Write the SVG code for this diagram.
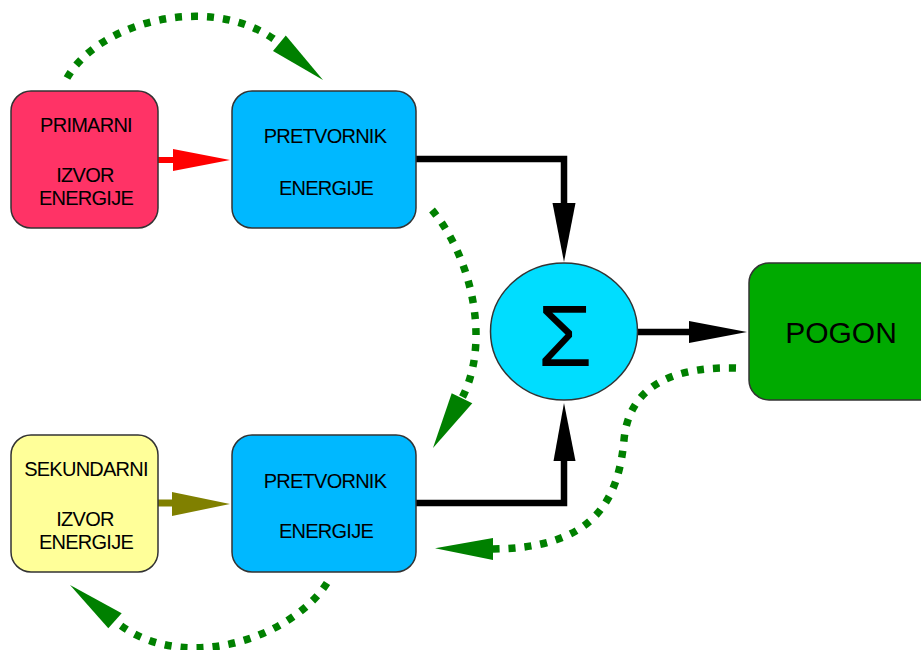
<svg xmlns="http://www.w3.org/2000/svg" width="921" height="650" viewBox="0 0 921 650">
<style>
.box{stroke:#333;stroke-width:1.5}
.t{font-family:"Liberation Sans",Arial,sans-serif;font-size:20px;letter-spacing:-0.75px;text-anchor:middle;fill:#000}
.blk{fill:none;stroke:#000;stroke-width:6.5}
.dot{fill:none;stroke:#008000;stroke-width:7.5;stroke-dasharray:7 9}
.gh{fill:#008000}
</style>
<rect width="921" height="650" fill="#fff"/>
<g id="connectors">
  <path d="M158,160 H175" stroke="#ff0000" stroke-width="6"/>
  <polygon points="173,149 230,160 173,171" fill="#ff0000"/>
  <path d="M158,503 H175" stroke="#808000" stroke-width="7"/>
  <polygon points="172,492 230,504 172,516" fill="#808000"/>
  <path class="blk" d="M416,159 H564 V205"/>
  <polygon points="552.5,203 575.5,203 564,262"/>
  <path class="blk" d="M416,503 H564 V458"/>
  <polygon points="553.5,461 575.5,461 564,403"/>
  <path class="blk" d="M638,332 H692"/>
  <polygon points="689,321 747,332 689,343"/>
  <path class="dot" d="M67,78 C100,20 215,-8 279,43"/>
  <polygon class="gh" points="323,80 273,51 285.8,35.6"/>
  <path class="dot" d="M432,210 C470,255 492,340 462,398"/>
  <polygon class="gh" points="433,448 451.7,393.3 472.3,403.3"/>
  <path class="dot" d="M736,368 C660,366 628,395 624,440 C618,505 590,548 493,549"/>
  <polygon class="gh" points="435,548.3 493,538 493,560"/>
  <path class="dot" d="M327,583 C290,640 180,675 115,621"/>
  <polygon class="gh" points="70,585 108.3,628.3 121.7,613.3"/>
</g>
<g id="primarni">
  <rect class="box" x="11" y="91" width="147" height="137" rx="20" fill="#ff3366"/>
  <text class="t" x="86" y="132">PRIMARNI</text>
  <text class="t" x="85" y="182">IZVOR</text>
  <text class="t" x="86" y="205">ENERGIJE</text>
</g>
<g id="pretvornik1">
  <rect class="box" x="232" y="91" width="184" height="137" rx="20" fill="#00b8ff"/>
  <text class="t" x="325" y="143">PRETVORNIK</text>
  <text class="t" x="326" y="195">ENERGIJE</text>
</g>
<g id="sekundarni">
  <rect class="box" x="11" y="435" width="147" height="137" rx="20" fill="#ffff99"/>
  <text class="t" x="86" y="476">SEKUNDARNI</text>
  <text class="t" x="85" y="526">IZVOR</text>
  <text class="t" x="86" y="549">ENERGIJE</text>
</g>
<g id="pretvornik2">
  <rect class="box" x="232" y="435" width="184" height="137" rx="20" fill="#00b8ff"/>
  <text class="t" x="325" y="488">PRETVORNIK</text>
  <text class="t" x="326" y="538">ENERGIJE</text>
</g>
<g id="suma">
  <ellipse class="box" cx="564" cy="331.5" rx="73.5" ry="68.5" fill="#00ddff"/>
  <text x="565" y="366" font-family="Liberation Sans,Arial,sans-serif" font-size="88" text-anchor="middle">Σ</text>
</g>
<g id="pogon">
  <rect class="box" x="749" y="263" width="190" height="137" rx="20" fill="#00aa00"/>
  <text x="841" y="343" font-family="Liberation Sans,Arial,sans-serif" font-size="30" text-anchor="middle">POGON</text>
</g>
</svg>
